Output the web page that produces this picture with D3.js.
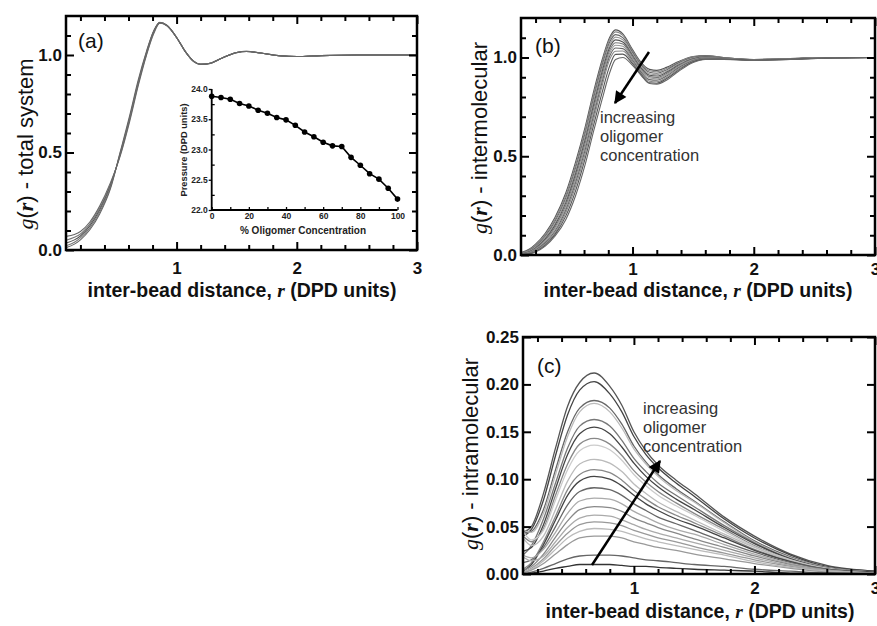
<!DOCTYPE html>
<html>
<head>
<meta charset="utf-8">
<script src="https://cdn.jsdelivr.net/npm/d3@7"></script>
<style>
  body { margin: 0; background: #fff; }
  text { font-family: "Liberation Sans", Arial, sans-serif; }
</style>
</head>
<body>
<div id="chart"></div>
<script>
// ---------- data ----------

// shared x ticks (inter-bead distance)
const xTicks = [1, 2, 3];
const xMinor = [0.2, 0.4, 0.6, 0.8, 1.2, 1.4, 1.6, 1.8, 2.2, 2.4, 2.6, 2.8];

// (a) total system g(r)
const rTotal = [0.08, 0.15, 0.2, 0.28, 0.36, 0.45, 0.53, 0.61, 0.68, 0.75, 0.81, 0.86, 0.92, 1.0, 1.07, 1.14, 1.2, 1.28, 1.38, 1.5, 1.58, 1.7, 1.85, 2.0, 2.2, 2.5, 3.0];
const gTotal = [
  [0.070, 0.080, 0.095, 0.145, 0.225, 0.345, 0.480, 0.660, 0.840, 1.000, 1.110, 1.163, 1.150, 1.090, 1.020, 0.970, 0.953, 0.958, 0.985, 1.012, 1.018, 1.010, 0.997, 0.992, 0.997, 1.0, 1.0],
  [0.050, 0.065, 0.082, 0.135, 0.215, 0.338, 0.485, 0.670, 0.850, 1.005, 1.115, 1.165, 1.150, 1.090, 1.020, 0.970, 0.953, 0.958, 0.985, 1.012, 1.018, 1.010, 0.997, 0.992, 0.997, 1.0, 1.0],
  [0.035, 0.052, 0.072, 0.125, 0.205, 0.330, 0.490, 0.675, 0.855, 1.010, 1.120, 1.166, 1.151, 1.090, 1.020, 0.968, 0.952, 0.958, 0.985, 1.013, 1.018, 1.010, 0.997, 0.992, 0.997, 1.0, 1.0],
  [0.022, 0.040, 0.062, 0.115, 0.195, 0.322, 0.495, 0.680, 0.860, 1.015, 1.123, 1.167, 1.152, 1.090, 1.020, 0.968, 0.952, 0.957, 0.985, 1.013, 1.019, 1.010, 0.997, 0.992, 0.997, 1.0, 1.0],
  [0.012, 0.030, 0.052, 0.105, 0.185, 0.315, 0.500, 0.690, 0.870, 1.020, 1.125, 1.168, 1.153, 1.090, 1.020, 0.967, 0.951, 0.957, 0.985, 1.013, 1.019, 1.010, 0.997, 0.992, 0.997, 1.0, 1.0]
];

// (a) inset: pressure vs % oligomer
const oligomerPct = [0, 5, 10, 15, 20, 25, 30, 35, 40, 45, 50, 55, 60, 65, 70, 75, 80, 85, 90, 95, 100];
const pressure = [23.88, 23.86, 23.83, 23.76, 23.72, 23.65, 23.60, 23.53, 23.49, 23.40, 23.29, 23.21, 23.12, 23.06, 23.05, 22.87, 22.74, 22.60, 22.51, 22.36, 22.18];
const pressureTicks = [22.0, 22.5, 23.0, 23.5, 24.0];
const pressureMinor = [22.25, 22.75, 23.25, 23.75];
const pctTicks = [0, 20, 40, 60, 80, 100];
const pctMinor = [10, 30, 50, 70, 90];

// (b) intermolecular g(r)
const rInter = [0.08, 0.15, 0.2, 0.28, 0.36, 0.45, 0.53, 0.61, 0.68, 0.75, 0.81, 0.86, 0.92, 1.0, 1.07, 1.14, 1.2, 1.28, 1.38, 1.5, 1.6, 1.75, 2.0, 2.3, 2.6, 3.0];
const gInter = [
  [0.012, 0.030, 0.055, 0.110, 0.190, 0.315, 0.470, 0.650, 0.830, 0.990, 1.100, 1.140, 1.120, 1.040, 0.975, 0.940, 0.935, 0.950, 0.980, 1.005, 1.010, 1.000, 0.990, 0.995, 1.000, 1.000],
  [0.010, 0.027, 0.050, 0.103, 0.180, 0.303, 0.455, 0.635, 0.815, 0.978, 1.090, 1.130, 1.112, 1.034, 0.968, 0.933, 0.928, 0.944, 0.976, 1.003, 1.009, 1.000, 0.990, 0.995, 1.000, 1.000],
  [0.008, 0.024, 0.045, 0.096, 0.170, 0.290, 0.440, 0.618, 0.797, 0.962, 1.076, 1.116, 1.101, 1.026, 0.961, 0.925, 0.920, 0.937, 0.972, 1.000, 1.007, 0.999, 0.989, 0.994, 0.999, 1.000],
  [0.007, 0.021, 0.040, 0.089, 0.160, 0.278, 0.425, 0.602, 0.780, 0.946, 1.062, 1.103, 1.090, 1.018, 0.954, 0.918, 0.913, 0.931, 0.967, 0.997, 1.005, 0.998, 0.989, 0.994, 0.999, 1.000],
  [0.006, 0.018, 0.036, 0.082, 0.150, 0.265, 0.410, 0.585, 0.762, 0.930, 1.048, 1.089, 1.079, 1.010, 0.947, 0.910, 0.906, 0.925, 0.962, 0.994, 1.003, 0.997, 0.988, 0.993, 0.999, 1.000],
  [0.005, 0.015, 0.032, 0.075, 0.140, 0.252, 0.395, 0.568, 0.744, 0.913, 1.034, 1.075, 1.068, 1.002, 0.940, 0.903, 0.899, 0.919, 0.958, 0.991, 1.001, 0.996, 0.988, 0.993, 0.999, 1.000],
  [0.004, 0.012, 0.028, 0.068, 0.130, 0.240, 0.380, 0.551, 0.726, 0.896, 1.020, 1.062, 1.057, 0.994, 0.933, 0.896, 0.892, 0.913, 0.953, 0.988, 0.999, 0.995, 0.987, 0.992, 0.998, 1.000],
  [0.003, 0.010, 0.025, 0.062, 0.120, 0.228, 0.365, 0.534, 0.708, 0.878, 1.005, 1.048, 1.045, 0.986, 0.926, 0.888, 0.885, 0.906, 0.948, 0.985, 0.997, 0.994, 0.987, 0.992, 0.998, 1.000],
  [0.002, 0.008, 0.021, 0.056, 0.111, 0.215, 0.348, 0.515, 0.688, 0.859, 0.988, 1.032, 1.033, 0.978, 0.920, 0.880, 0.877, 0.899, 0.942, 0.981, 0.995, 0.993, 0.986, 0.991, 0.998, 1.000],
  [0.001, 0.006, 0.018, 0.050, 0.103, 0.198, 0.325, 0.490, 0.660, 0.825, 0.955, 1.016, 1.017, 0.969, 0.914, 0.872, 0.870, 0.892, 0.936, 0.978, 0.992, 0.992, 0.986, 0.991, 0.997, 1.000],
  [0.000, 0.005, 0.015, 0.045, 0.095, 0.180, 0.300, 0.460, 0.630, 0.790, 0.920, 0.990, 1.000, 0.960, 0.910, 0.868, 0.865, 0.885, 0.930, 0.975, 0.990, 0.990, 0.985, 0.990, 0.997, 1.000]
];
const interShades = ["#555", "#888", "#666", "#999", "#555", "#777", "#999", "#666", "#888", "#555", "#666"];

// (c) intramolecular g(r)
const rIntra = [0.08, 0.15, 0.25, 0.35, 0.45, 0.55, 0.67, 0.8, 0.9, 1.0, 1.1, 1.2, 1.35, 1.5, 1.75, 2.0, 2.3, 2.6, 3.0];
const gIntra = [
  [0.044, 0.050, 0.085, 0.133, 0.177, 0.202, 0.212, 0.198, 0.178, 0.150, 0.130, 0.115, 0.099, 0.085, 0.060, 0.040, 0.021, 0.009, 0.003],
  [0.040, 0.047, 0.078, 0.125, 0.168, 0.194, 0.203, 0.190, 0.171, 0.145, 0.126, 0.112, 0.096, 0.082, 0.058, 0.038, 0.020, 0.008, 0.003],
  [0.043, 0.045, 0.068, 0.110, 0.150, 0.175, 0.183, 0.175, 0.158, 0.135, 0.118, 0.105, 0.090, 0.077, 0.055, 0.035, 0.018, 0.007, 0.002],
  [0.046, 0.044, 0.064, 0.105, 0.145, 0.171, 0.180, 0.171, 0.154, 0.132, 0.116, 0.103, 0.088, 0.076, 0.054, 0.034, 0.017, 0.007, 0.002],
  [0.020, 0.030, 0.058, 0.096, 0.133, 0.156, 0.163, 0.156, 0.141, 0.122, 0.108, 0.096, 0.083, 0.071, 0.051, 0.033, 0.016, 0.007, 0.002],
  [0.024, 0.028, 0.052, 0.090, 0.126, 0.148, 0.155, 0.148, 0.134, 0.117, 0.103, 0.092, 0.079, 0.068, 0.049, 0.032, 0.016, 0.006, 0.002],
  [0.040, 0.034, 0.048, 0.083, 0.116, 0.137, 0.143, 0.137, 0.125, 0.109, 0.097, 0.087, 0.075, 0.064, 0.047, 0.030, 0.015, 0.006, 0.002],
  [0.045, 0.036, 0.046, 0.078, 0.110, 0.130, 0.136, 0.131, 0.120, 0.105, 0.093, 0.083, 0.072, 0.062, 0.045, 0.029, 0.015, 0.006, 0.002],
  [0.038, 0.030, 0.040, 0.068, 0.098, 0.116, 0.121, 0.117, 0.108, 0.095, 0.085, 0.076, 0.066, 0.057, 0.042, 0.028, 0.014, 0.006, 0.002],
  [0.005, 0.012, 0.034, 0.061, 0.089, 0.105, 0.110, 0.107, 0.099, 0.088, 0.079, 0.071, 0.062, 0.054, 0.040, 0.026, 0.013, 0.005, 0.002],
  [0.003, 0.010, 0.031, 0.057, 0.083, 0.098, 0.103, 0.100, 0.093, 0.083, 0.074, 0.067, 0.058, 0.051, 0.038, 0.025, 0.013, 0.005, 0.002],
  [0.012, 0.015, 0.028, 0.050, 0.073, 0.087, 0.091, 0.089, 0.083, 0.074, 0.067, 0.060, 0.053, 0.046, 0.034, 0.023, 0.012, 0.005, 0.001],
  [0.020, 0.017, 0.026, 0.044, 0.064, 0.077, 0.080, 0.079, 0.074, 0.066, 0.060, 0.054, 0.047, 0.042, 0.031, 0.021, 0.011, 0.004, 0.001],
  [0.004, 0.008, 0.021, 0.039, 0.056, 0.068, 0.071, 0.070, 0.066, 0.059, 0.054, 0.049, 0.043, 0.037, 0.028, 0.019, 0.010, 0.004, 0.001],
  [0.018, 0.014, 0.019, 0.034, 0.049, 0.059, 0.062, 0.061, 0.057, 0.052, 0.047, 0.043, 0.038, 0.033, 0.025, 0.017, 0.009, 0.004, 0.001],
  [0.002, 0.006, 0.016, 0.030, 0.043, 0.052, 0.055, 0.054, 0.051, 0.046, 0.042, 0.038, 0.034, 0.029, 0.022, 0.015, 0.008, 0.003, 0.001],
  [0.002, 0.005, 0.014, 0.026, 0.038, 0.045, 0.048, 0.047, 0.045, 0.041, 0.037, 0.034, 0.030, 0.026, 0.020, 0.013, 0.007, 0.003, 0.001],
  [0.001, 0.004, 0.011, 0.021, 0.031, 0.038, 0.040, 0.040, 0.038, 0.034, 0.031, 0.028, 0.025, 0.021, 0.016, 0.011, 0.006, 0.002, 0.001],
  [0.000, 0.002, 0.006, 0.011, 0.016, 0.019, 0.020, 0.020, 0.019, 0.017, 0.015, 0.014, 0.012, 0.010, 0.008, 0.005, 0.003, 0.001, 0.000],
  [0.000, 0.001, 0.003, 0.006, 0.008, 0.010, 0.010, 0.010, 0.009, 0.008, 0.008, 0.007, 0.006, 0.005, 0.004, 0.003, 0.001, 0.001, 0.000]
];
const intraShades = ["#555", "#444", "#666", "#bbb", "#777", "#444", "#888", "#ccc", "#bbb", "#888",
                     "#444", "#666", "#aaa", "#888", "#aaa", "#999", "#bbb", "#999", "#666", "#333"];

// ---------- drawing ----------
const svg = d3.select("#chart")
  .append("svg")
  .attr("width", 877)
  .attr("height", 626)
  .style("background", "#fff");

const defs = svg.append("defs");
defs.append("marker")
  .attr("id", "arrow")
  .attr("viewBox", "0 0 10 10")
  .attr("refX", 9).attr("refY", 5)
  .attr("markerWidth", 6).attr("markerHeight", 5)
  .attr("markerUnits", "strokeWidth")
  .attr("orient", "auto")
  .append("path")
  .attr("d", "M0,0 L10,5 L0,10 Z")
  .attr("fill", "#000");

function styleTicks(g, fontSize) {
  g.select(".domain").remove();
  g.selectAll(".tick line").attr("stroke", "#000").attr("stroke-width", 2);
  g.selectAll(".tick text")
    .attr("fill", "#111")
    .style("font-family", '"Liberation Sans", Arial, sans-serif')
    .style("font-weight", "bold")
    .style("font-size", fontSize + "px");
}

function drawPanel(p) {
  const x = d3.scaleLinear().domain([0.08, 3]).range([p.left, p.right]);
  const y = d3.scaleLinear().domain(p.yDomain).range([p.bottom, p.top]);

  defs.append("clipPath").attr("id", "clip-" + p.name)
    .append("rect")
    .attr("x", p.left).attr("y", p.top)
    .attr("width", p.right - p.left).attr("height", p.bottom - p.top);

  const line = d3.line()
    .x(d => x(d[0]))
    .y(d => y(d[1]))
    .curve(d3.curveMonotoneX);

  svg.append("g")
    .attr("clip-path", `url(#clip-${p.name})`)
    .selectAll("path")
    .data(p.series)
    .join("path")
    .attr("d", s => line(d3.zip(p.r, s)))
    .attr("fill", "none")
    .attr("stroke", (s, i) => p.colors[i % p.colors.length])
    .attr("stroke-width", p.lineWidth);

  // inward ticks on all four sides
  svg.append("g").attr("transform", `translate(${p.left},0)`)
    .call(d3.axisLeft(y).tickValues(p.yTicks).tickSize(-8).tickPadding(4).tickFormat(d3.format(p.fmt)))
    .call(g => styleTicks(g, 17));
  svg.append("g").attr("transform", `translate(${p.right},0)`)
    .call(d3.axisRight(y).tickValues(p.yTicks).tickSize(-8).tickFormat(""))
    .call(g => styleTicks(g, 17));
  if (p.yMinor.length) {
    svg.append("g").attr("transform", `translate(${p.left},0)`)
      .call(d3.axisLeft(y).tickValues(p.yMinor).tickSize(-5).tickFormat(""))
      .call(g => styleTicks(g, 17));
    svg.append("g").attr("transform", `translate(${p.right},0)`)
      .call(d3.axisRight(y).tickValues(p.yMinor).tickSize(-5).tickFormat(""))
      .call(g => styleTicks(g, 17));
  }
  svg.append("g").attr("transform", `translate(0,${p.bottom})`)
    .call(d3.axisBottom(x).tickValues(xTicks).tickSize(-8).tickPadding(p.xPad).tickFormat(d3.format("d")))
    .call(g => styleTicks(g, 17));
  svg.append("g").attr("transform", `translate(0,${p.bottom})`)
    .call(d3.axisBottom(x).tickValues(xMinor).tickSize(-5).tickFormat(""))
    .call(g => styleTicks(g, 17));
  svg.append("g").attr("transform", `translate(0,${p.top})`)
    .call(d3.axisTop(x).tickValues(xTicks).tickSize(-8).tickFormat(""))
    .call(g => styleTicks(g, 17));
  svg.append("g").attr("transform", `translate(0,${p.top})`)
    .call(d3.axisTop(x).tickValues(xMinor).tickSize(-5).tickFormat(""))
    .call(g => styleTicks(g, 17));

  // frame
  svg.append("rect")
    .attr("x", p.left).attr("y", p.top)
    .attr("width", p.right - p.left).attr("height", p.bottom - p.top)
    .attr("fill", "none")
    .attr("stroke", "#000")
    .attr("stroke-width", 2.5);

  // panel letter
  svg.append("text")
    .attr("x", p.letterX).attr("y", p.letterY)
    .attr("font-size", 21)
    .attr("fill", "#111")
    .text(p.letter);

  // x title
  const xt = svg.append("text")
    .attr("x", p.xTitleX).attr("y", p.xTitleY)
    .attr("text-anchor", "middle")
    .attr("font-size", 19.5)
    .attr("font-weight", "bold")
    .attr("fill", "#111");
  xt.append("tspan").text("inter-bead distance, ");
  xt.append("tspan").attr("font-family", '"Liberation Serif", serif').attr("font-style", "italic").text("r");
  xt.append("tspan").text(" (DPD units)");

  // y title
  const yt = svg.append("text")
    .attr("transform", `translate(${p.yTitleX},${p.yTitleY}) rotate(-90)`)
    .attr("text-anchor", "middle")
    .attr("font-size", 22)
    .attr("fill", "#111");
  yt.append("tspan").attr("font-family", '"Liberation Serif", serif').attr("font-style", "italic").text("g");
  yt.append("tspan").text("(");
  yt.append("tspan").attr("font-family", '"Liberation Serif", serif').attr("font-style", "italic").attr("font-weight", "bold").text("r");
  yt.append("tspan").text(") - " + p.yName);

  return { x, y };
}

function annotate(x1, y1, x2, y2, tx, ty) {
  svg.append("line")
    .attr("x1", x1).attr("y1", y1).attr("x2", x2).attr("y2", y2)
    .attr("stroke", "#000")
    .attr("stroke-width", 2.5)
    .attr("marker-end", "url(#arrow)");
  ["increasing", "oligomer", "concentration"].forEach((w, i) => {
    svg.append("text")
      .attr("x", tx).attr("y", ty + i * 19)
      .attr("font-size", 16.5)
      .attr("fill", "#333")
      .text(w);
  });
}

// (a)
drawPanel({
  name: "a", left: 66, right: 417, top: 16, bottom: 250,
  yDomain: [0, 1.2], yTicks: [0, 0.5, 1.0], yMinor: [0.1, 0.2, 0.3, 0.4, 0.6, 0.7, 0.8, 0.9, 1.1], fmt: ".1f",
  r: rTotal, series: gTotal, colors: ["#666", "#777", "#555", "#777", "#666"], lineWidth: 1.1,
  xPad: 12, letter: "(a)", letterX: 78, letterY: 48,
  xTitleX: 242, xTitleY: 297, yTitleX: 33, yTitleY: 144, yName: "total system"
});

// (a) inset
const xi = d3.scaleLinear().domain([0, 100]).range([211.7, 397.5]);
const yi = d3.scaleLinear().domain([22, 24]).range([210, 89]);
function styleInset(g) {
  g.select(".domain").remove();
  g.selectAll(".tick line").attr("stroke", "#000").attr("stroke-width", 1.3);
  g.selectAll(".tick text")
    .attr("fill", "#222")
    .style("font-family", '"Liberation Sans", Arial, sans-serif')
    .style("font-weight", "bold")
    .style("font-size", "8.5px");
}
svg.append("g").attr("transform", "translate(211.7,0)")
  .call(d3.axisLeft(yi).tickValues(pressureTicks).tickSize(3).tickPadding(1).tickFormat(d3.format(".1f")))
  .call(styleInset);
svg.append("g").attr("transform", "translate(211.7,0)")
  .call(d3.axisLeft(yi).tickValues(pressureMinor).tickSize(-3).tickFormat(""))
  .call(styleInset);
svg.append("g").attr("transform", "translate(0,210)")
  .call(d3.axisBottom(xi).tickValues(pctTicks).tickSize(-3).tickPadding(3).tickFormat(d3.format("d")))
  .call(styleInset);
svg.append("g").attr("transform", "translate(0,210)")
  .call(d3.axisBottom(xi).tickValues(pctMinor).tickSize(-3).tickFormat(""))
  .call(styleInset);
svg.append("path")
  .attr("d", "M211.7,89 V210 H397.5")
  .attr("fill", "none").attr("stroke", "#000").attr("stroke-width", 1.8);
svg.append("path")
  .datum(d3.zip(oligomerPct, pressure))
  .attr("d", d3.line().x(d => xi(d[0])).y(d => yi(d[1])))
  .attr("fill", "none").attr("stroke", "#000").attr("stroke-width", 1.6);
svg.append("g").selectAll("circle")
  .data(d3.zip(oligomerPct, pressure))
  .join("circle")
  .attr("cx", d => xi(d[0])).attr("cy", d => yi(d[1]))
  .attr("r", 2.8).attr("fill", "#000");
svg.append("text")
  .attr("transform", "translate(187,150) rotate(-90)")
  .attr("text-anchor", "middle")
  .attr("font-size", 9.3).attr("font-weight", "bold").attr("fill", "#222")
  .text("Pressure (DPD units)");
svg.append("text")
  .attr("x", 303).attr("y", 234)
  .attr("text-anchor", "middle")
  .attr("font-size", 10).attr("font-weight", "bold").attr("fill", "#222")
  .text("% Oligomer Concentration");

// (b)
drawPanel({
  name: "b", left: 521, right: 875, top: 18, bottom: 255,
  yDomain: [0, 1.2], yTicks: [0, 0.5, 1.0], yMinor: [0.1, 0.2, 0.3, 0.4, 0.6, 0.7, 0.8, 0.9, 1.1], fmt: ".1f",
  r: rInter, series: gInter, colors: interShades, lineWidth: 1.1,
  xPad: 8, letter: "(b)", letterX: 535, letterY: 53,
  xTitleX: 698, xTitleY: 297, yTitleX: 487, yTitleY: 138, yName: "intermolecular"
});
annotate(649, 52, 615, 103, 600, 123);

// (c)
drawPanel({
  name: "c", left: 523, right: 875, top: 337, bottom: 574,
  yDomain: [0, 0.25], yTicks: [0, 0.05, 0.10, 0.15, 0.20, 0.25], yMinor: [], fmt: ".2f",
  r: rIntra, series: gIntra, colors: intraShades, lineWidth: 1.3,
  xPad: 8, letter: "(c)", letterX: 537, letterY: 373,
  xTitleX: 700, xTitleY: 618, yTitleX: 478, yTitleY: 454, yName: "intramolecular"
});
annotate(592, 565, 660, 461, 643, 414);
</script>
</body>
</html>
